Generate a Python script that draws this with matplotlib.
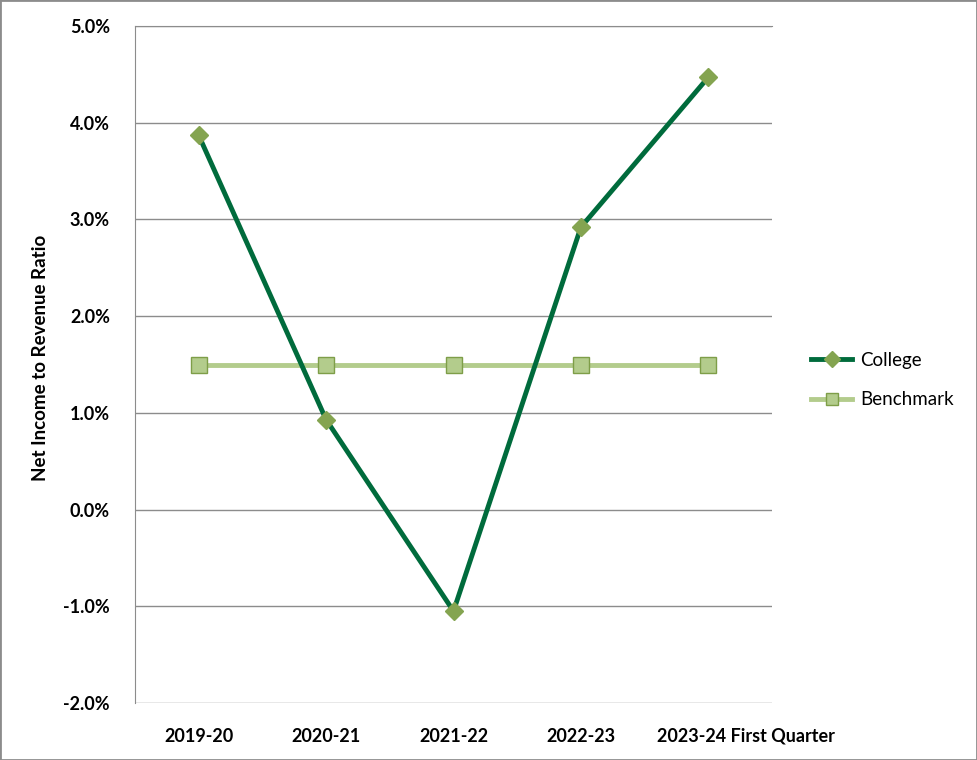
import matplotlib.pyplot as plt
from matplotlib.ticker import FuncFormatter
from matplotlib.transforms import ScaledTranslation

categories = ['2019-20', '2020-21', '2021-22', '2022-23', '2023-24 First Quarter']
college = [3.87, 0.93, -1.05, 2.92, 4.47]
benchmark = [1.5, 1.5, 1.5, 1.5, 1.5]

plt.rcParams['font.family'] = ['Lato', 'DejaVu Sans']

fig = plt.figure(figsize=(9.77, 7.6), dpi=100)
ax = fig.add_axes([135 / 977, 1 - 703 / 760, 637 / 977, 677 / 760])

x = list(range(len(categories)))
ax.plot(x, college, color='#006B3C', lw=3.5, marker='D', ms=9,
        mfc='#84A450', mec='#84A450', label='College', zorder=3)
ax.plot(x, benchmark, color='#B3CC8C', lw=3.5, marker='s', ms=11,
        mfc='#B3CC8C', mec='#7E9E48', mew=1, label='Benchmark', zorder=2)

ax.set_xlim(-0.5, 4.5)
ax.set_ylim(-2, 5)
ax.set_yticks(range(-2, 6))
ax.yaxis.set_major_formatter(FuncFormatter(lambda v, p: f'{v:.1f}%'.replace('\u2212', '-')))
ax.set_xticks(x)
ax.set_xticklabels(categories)
ax.grid(axis='y', color='#8C8C8C', lw=1)
ax.set_axisbelow(True)
for s in ['right', 'bottom']:
    ax.spines[s].set_visible(False)
for s in ['left', 'top']:
    ax.spines[s].set_color('#8C8C8C')
ax.tick_params(length=0, labelsize=13)
ax.tick_params(axis='x', pad=18)
ax.tick_params(axis='y', pad=18)
for lbl in ax.get_xticklabels() + ax.get_yticklabels():
    lbl.set_fontweight('bold')

# the long last label starts near the category, like the original
last = ax.get_xticklabels()[-1]
last.set_horizontalalignment('left')
last.set_transform(last.get_transform() + ScaledTranslation(-0.51, 0, fig.dpi_scale_trans))

ax.set_ylabel('Net Income to Revenue Ratio', fontsize=13.5, fontweight='bold')
ax.yaxis.set_label_coords(-0.135, 0.51)

ax.legend(loc='center left', bbox_to_anchor=(1.035, 0.477), frameon=False,
          fontsize=13.5, handlelength=2.2, labelspacing=1.2, handletextpad=0.4,
          markerscale=0.85)

fig.patches.append(plt.Rectangle((0, 0), 1, 1, transform=fig.transFigure,
                                 fill=False, ec='#8C8C8C', lw=2))
fig.savefig('out.png')
